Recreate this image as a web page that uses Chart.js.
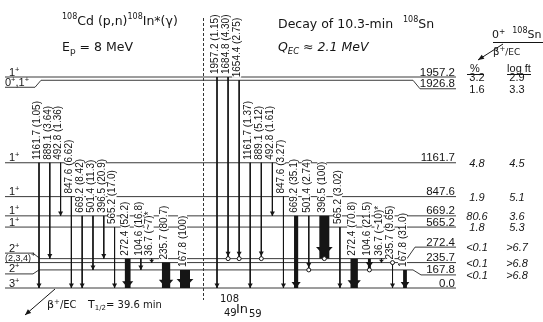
<!DOCTYPE html>
<html>
<head>
<meta charset="utf-8">
<script src="https://cdn.jsdelivr.net/npm/chart.js@4.4.0/dist/chart.umd.min.js"></script>
<style>
  html, body { margin: 0; padding: 0; background: #fff; }
  canvas { display: block; }
</style>
</head>
<body>
<canvas id="scheme" width="543" height="322"></canvas>
<script>
// 108In levels (keV), spins and beta feeding from 108Sn
const levelEnergies = [0.0, 167.8, 235.7, 272.4, 565.2, 669.2, 847.6, 1161.7, 1926.8, 1957.2];
const levelSpins = ["3^+", "2^+", "(2,3,4)^+", "2^+", "1^+", "1^+", "1^+", "1^+", "0^+,1^+", "1^+"];
const betaPercent = ["", "<0.1", "<0.1", "<0.1", "1.8", "80.6", "1.9", "4.8", "1.6", "3.2"];
const logFt = ["", ">6.8", ">6.8", ">6.7", "5.3", "3.6", "5.1", "4.5", "3.3", "2.9"];

// in-beam gammas, 108Cd(p,n)108In*
const beamGammas = [1161.7, 889.1, 492.8, 847.6, 669.2, 501.4, 396.5, 565.2, 272.4, 104.6, 36.7, 235.7, 167.8];
const beamFrom = [1161.7, 1161.7, 1161.7, 847.6, 669.2, 669.2, 669.2, 565.2, 272.4, 272.4, 272.4, 235.7, 167.8];
const beamIntensity = ["1.05", "3.64", "1.36", "6.62", "8.42", "11.3", "20.9", "17.0", "52.2", "16.8", "~7", "80.7", "100"];

// gammas following the decay of 10.3-min 108Sn
const decayGammas = [1957.2, 1684.8, 1654.4, 1161.7, 889.1, 492.8, 847.6, 669.2, 501.4, 396.5, 565.2, 272.4, 104.6, 36.7, 235.7, 167.8];
const decayFrom = [1957.2, 1957.2, 1926.8, 1161.7, 1161.7, 1161.7, 847.6, 669.2, 669.2, 669.2, 565.2, 272.4, 272.4, 272.4, 235.7, 167.8];
const decayIntensity = ["1.15", "4.30", "2.75", "1.37", "5.12", "1.61", "3.27", "35.1", "2.74", "100", "3.02", "70.8", "21.5", "~10", "9.65", "31.0"];
const decayCoinc = ["", "end", "end", "", "end", "", "", "", "end", "end", "", "", "end", "", "start", ""];

const W = 543, H = 322;
const Y0 = 288, Y1 = 77;               // pixel rows of the 0 and 1957.2 keV levels
const kevPerPx = 1957.2 / (Y0 - Y1);
const yMax = Y0 * kevPerPx, yMin = yMax - H * kevPerPx;
const FONT = '"Liberation Sans", Arial, sans-serif';
const TFONT = '"DejaVu Sans", sans-serif';
const INK = "#151515";

// bent level ends (px, + is down) so the labels have room
const bends = {
  1: { l: 4, lx: [33, 39], r: 5, rx: [413, 421] },
  3: { l: -5.5, lx: [33, 40], r: -11.5, rx: [407, 415] },
  8: { l: 7, lx: [35, 41], r: 8.5, rx: [413, 420] }
};

const levelSets = levelEnergies.map((e, i) => {
  const b = bends[i];
  let pts;
  if (b) {
    pts = [
      { x: 5, y: e - b.l * kevPerPx }, { x: b.lx[0], y: e - b.l * kevPerPx },
      { x: b.lx[1], y: e }, { x: b.rx[0], y: e },
      { x: b.rx[1], y: e - b.r * kevPerPx }, { x: 456, y: e - b.r * kevPerPx }
    ];
  } else {
    pts = [{ x: 5, y: e }, { x: 456, y: e }];
  }
  return { kind: "level", idx: i, data: pts, showLine: true, borderColor: "#3a3a3a",
           borderWidth: 1, pointRadius: 0, order: 2 };
});

function thickness(s) {
  const v = parseFloat(s.replace("~", ""));
  return v > 21 ? 1 + 0.09 * v : 1;
}

function gammaSets(gammas, froms, intens, coinc, x0, x1) {
  const widths = intens.map(thickness);
  let pair = 0;
  for (let i = 1; i < widths.length; i++) pair += (widths[i - 1] + widths[i]) / 2;
  const gap = (x1 - x0 - pair) / (widths.length - 1);
  let x = x0;
  return gammas.map((g, i) => {
    if (i > 0) x += gap + (widths[i - 1] + widths[i]) / 2;
    const mark = coinc ? coinc[i] : "";
    const tent = intens[i].indexOf("~") >= 0;
    return {
      kind: "gamma",
      text: g.toFixed(1) + " (" + intens[i] + ")" + (tent ? "*" : ""),
      mark: mark, w: widths[i],
      data: [{ x: x, y: froms[i] }, { x: x, y: froms[i] - g }],
      showLine: true, borderColor: INK, borderWidth: widths[i],
      pointRadius: mark === "end" ? [0, 2] : mark === "start" ? [2, 0] : 0,
      pointBackgroundColor: "#fff", pointBorderColor: INK, pointBorderWidth: 1,
      order: 1
    };
  });
}

const datasets = levelSets
  .concat(gammaSets(beamGammas, beamFrom, beamIntensity, null, 39, 185))
  .concat(gammaSets(decayGammas, decayFrom, decayIntensity, decayCoinc, 217, 405));

function rich(ctx, x, y, parts) {
  let cx = x;
  parts.forEach(([t, size, dy, style, fam]) => {
    ctx.font = (style || "") + " " + size + "px " + (fam || TFONT);
    ctx.fillText(t, cx, y + (dy || 0));
    cx += ctx.measureText(t).width;
  });
  return cx;
}

function arrowLine(ctx, xa, ya, xb, yb, hw, hl) {
  ctx.beginPath(); ctx.moveTo(xa, ya); ctx.lineTo(xb, yb); ctx.stroke();
  const a = Math.atan2(yb - ya, xb - xa);
  ctx.beginPath();
  ctx.moveTo(xb, yb);
  ctx.lineTo(xb - hl * Math.cos(a) + hw / 2 * Math.sin(a), yb - hl * Math.sin(a) - hw / 2 * Math.cos(a));
  ctx.lineTo(xb - hl * Math.cos(a) - hw / 2 * Math.sin(a), yb - hl * Math.sin(a) + hw / 2 * Math.cos(a));
  ctx.closePath(); ctx.fill();
}

function labelBox(chart, ds, i) {
  const p = chart.getDatasetMeta(i).data[0];
  return { x: p.x - 2.5, y: p.y - 3 };
}

const schemePlugin = {
  id: "scheme",
  beforeDraw(chart) { chart.$bgDone = false; },
  beforeDatasetDraw(chart, args) {
    const ds = chart.data.datasets[args.index];
    if (ds.kind !== "gamma" || chart.$bgDone) return;
    chart.$bgDone = true;
    const ctx = chart.ctx;
    ctx.save();
    ctx.font = "10px " + FONT;
    ctx.fillStyle = "#fff";
    chart.data.datasets.forEach((d, i) => {
      if (d.kind !== "gamma") return;
      const b = labelBox(chart, d, i);
      const tw = ctx.measureText(d.text).width;
      ctx.fillRect(b.x - 4.5, b.y - tw - 1, 9, tw + 1.5);
    });
    ctx.restore();
  },
  afterDatasetsDraw(chart) {
    const ctx = chart.ctx;
    const ys = chart.scales.y;
    ctx.save();
    ctx.fillStyle = INK;
    ctx.strokeStyle = INK;
    chart.data.datasets.forEach((d, i) => {
      if (d.kind !== "gamma") return;
      const meta = chart.getDatasetMeta(i);
      const p0 = meta.data[0], p1 = meta.data[1];
      const len = p1.y - p0.y;
      const tip = p1.y - (d.mark === "end" ? 2.5 : 0);
      const hw = d.w * 1.3 + 3.7;
      const hl = Math.min(4 + d.w * 0.5, len * 0.7);
      ctx.beginPath();
      ctx.moveTo(p1.x, tip);
      ctx.lineTo(p1.x - hw / 2, tip - hl);
      ctx.lineTo(p1.x + hw / 2, tip - hl);
      ctx.closePath();
      ctx.fill();
      // rotated label above the starting level
      const b = labelBox(chart, d, i);
      ctx.save();
      ctx.translate(b.x, b.y);
      ctx.rotate(-Math.PI / 2);
      ctx.font = "10px " + FONT;
      ctx.textBaseline = "middle";
      ctx.textAlign = "left";
      ctx.fillText(d.text, 0, 0.5);
      ctx.restore();
    });
    // separator between in-beam and decay data
    ctx.setLineDash([3, 2]);
    ctx.lineWidth = 1;
    ctx.strokeStyle = "#333";
    ctx.beginPath(); ctx.moveTo(203.5, 18); ctx.lineTo(203.5, 300); ctx.stroke();
    ctx.setLineDash([]);
    ctx.restore();
  },
  afterDraw(chart) {
    const ctx = chart.ctx;
    const ys = chart.scales.y;
    ctx.save();
    ctx.fillStyle = INK;
    ctx.strokeStyle = INK;
    ctx.textBaseline = "alphabetic";
    levelEnergies.forEach((e, i) => {
      const b = bends[i];
      const yl = ys.getPixelForValue(e) + (b ? b.l : 0);
      const yr = ys.getPixelForValue(e) + (b ? b.r : 0);
      // spin, left
      const small = levelSpins[i].length > 4;
      const parts = levelSpins[i].split(/\^(.)/).filter(s => s !== "");
      let cx = small ? 5 : 9;
      const toks = levelSpins[i].split(/\^(.)/);
      toks.forEach((t, k) => {
        if (!t) return;
        const sz = k % 2 ? 7.5 : (levelSpins[i].startsWith("(") ? 9 : 11);
        ctx.font = sz + "px " + FONT;
        ctx.fillText(t, cx, yl - 1.5 - (k % 2 ? 4 : 0));
        cx += ctx.measureText(t).width;
      });
      // energy, right
      ctx.font = "11.5px " + FONT;
      ctx.textAlign = "right";
      ctx.fillText(e.toFixed(1), 455, yr - 1.5);
      // feeding table
      const it = i >= 8 ? "" : "italic ";
      ctx.font = it + "11px " + FONT;
      ctx.textAlign = "center";
      ctx.textBaseline = "middle";
      if (betaPercent[i]) ctx.fillText(betaPercent[i], 477, yr + 1);
      if (logFt[i]) ctx.fillText(logFt[i], 517, yr + 1);
      ctx.textBaseline = "alphabetic";
      ctx.textAlign = "left";
    });
    // table header
    ctx.font = "11px " + FONT;
    ctx.textAlign = "center";
    ctx.fillText("%", 475, 72);
    ctx.fillText("log ft", 519, 72);
    ctx.lineWidth = 1;
    ctx.beginPath();
    ctx.moveTo(467, 74.5); ctx.lineTo(484, 74.5);
    ctx.moveTo(507, 74.5); ctx.lineTo(531, 74.5);
    ctx.stroke();
    ctx.textAlign = "left";
    // titles
    rich(ctx, 62, 25, [["108", 8, -6], ["Cd (p,n)", 12.5], ["108", 8, -6], ["In*(γ)", 12.5]]);
    rich(ctx, 62, 51, [["E", 12.5], ["p", 9, 3], [" = 8 MeV", 12.5]]);
    rich(ctx, 278, 28, [["Decay of 10.3-min", 12.5]]);
    rich(ctx, 403, 28, [["108", 8, -6], ["Sn", 12.5]]);
    rich(ctx, 278, 51, [["Q", 12.5, 0, "italic"], ["EC", 8.5, 3, "italic"], [" ≈ 2.1 MeV", 12.5, 0, "italic"]]);
    // parent level
    rich(ctx, 492, 38, [["0", 11], ["+", 7.5, -4], ["  ", 11], ["108", 8, -5], ["Sn", 11]]);
    ctx.beginPath(); ctx.moveTo(493, 42.5); ctx.lineTo(543, 42.5); ctx.stroke();
    rich(ctx, 493, 55, [["β", 10], ["+", 7, -4], ["/EC", 9]]);
    arrowLine(ctx, 503, 44, 478, 60, 5, 6);
    // beta decay of 108In
    arrowLine(ctx, 55, 289, 25, 315, 5, 6);
    rich(ctx, 47, 308, [["β", 11], ["+", 7, -4], ["/EC", 10]]);
    rich(ctx, 88, 308, [["T", 11], ["1/2", 7, 2], ["= 39.6 min", 10]]);
    rich(ctx, 220, 302, [["108", 10]]);
    rich(ctx, 224, 316, [["49", 10]]);
    rich(ctx, 236, 313, [["In", 13]]);
    rich(ctx, 249, 317, [["59", 10]]);
    ctx.restore();
  }
};

new Chart(document.getElementById("scheme"), {
  type: "scatter",
  data: { datasets: datasets },
  options: {
    responsive: false,
    animation: false,
    devicePixelRatio: 1,
    events: [],
    layout: { padding: 0, autoPadding: false },
    plugins: { legend: { display: false }, tooltip: { enabled: false } },
    elements: { line: { tension: 0 } },
    scales: {
      x: { type: "linear", min: 0, max: W, display: false },
      y: { type: "linear", min: yMin, max: yMax, display: false }
    }
  },
  plugins: [schemePlugin]
});
</script>
</body>
</html>
